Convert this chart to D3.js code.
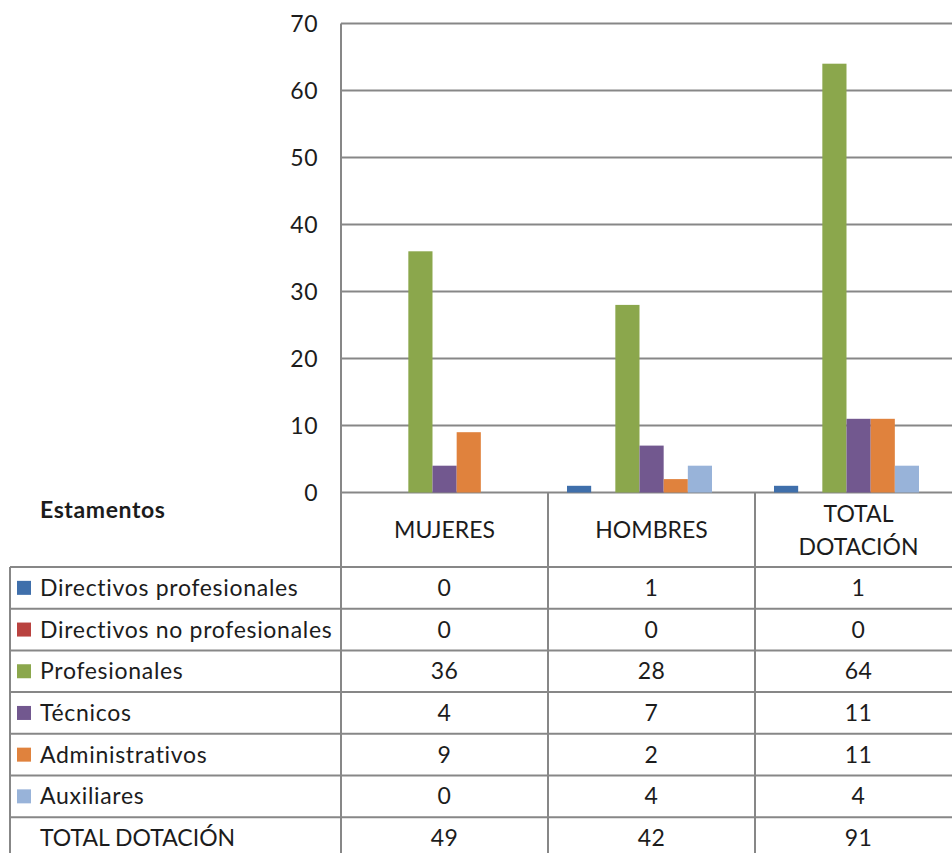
<!DOCTYPE html>
<html>
<head>
<meta charset="utf-8">
<script src="https://cdn.jsdelivr.net/npm/d3@7"></script>
<style>
  body { margin: 0; background: #fff; }
  svg text { font-family: Lato, "Open Sans", sans-serif; fill: #1c1c1c; font-variant-ligatures: none; }
</style>
</head>
<body>
<div id="chart"></div>
<script>
// data
const categories = ["MUJERES", "HOMBRES", "TOTAL DOTACIÓN"];
const headerLines = [["MUJERES"], ["HOMBRES"], ["TOTAL", "DOTACIÓN"]];
const series = ["Directivos profesionales", "Directivos no profesionales", "Profesionales",
                "Técnicos", "Administrativos", "Auxiliares"];
const mujeres = [0, 0, 36, 4, 9, 0];
const hombres = [1, 0, 28, 7, 2, 4];
const totalDotacion = [1, 0, 64, 11, 11, 4];
const totales = [49, 42, 91];
const yTicks = [0, 10, 20, 30, 40, 50, 60, 70];
const colors = ["#3f6fab", "#b9423f", "#8ba74c", "#72588f", "#e0823d", "#98b3d9"];

const W = 952, H = 853;
const plot = {left: 341, top: 23.5, bottom: 492.5, colW: 207};
const rowTop = 567, rowH = 41.7, tableLeft = 10;
const grid = "#878787";
const fs = "23px";

const svg = d3.select("#chart")
    .append("svg")
    .attr("width", W)
    .attr("height", H);

const x0 = d3.scaleBand()
    .domain(categories)
    .range([plot.left, plot.left + plot.colW * 3]);

const x1 = d3.scaleBand()
    .domain(series)
    .range([19, 164]);

const y = d3.scaleLinear()
    .domain([0, 70])
    .range([plot.bottom, plot.top]);

// gridlines
svg.append("g")
    .selectAll("line")
    .data(yTicks)
    .enter()
    .append("line")
    .attr("x1", plot.left)
    .attr("x2", W)
    .attr("y1", d => y(d))
    .attr("y2", d => y(d))
    .style("stroke", grid)
    .style("stroke-width", 2);

// y axis labels
const yAxis = svg.append("g")
    .attr("transform", `translate(${plot.left}, 0)`)
    .call(d3.axisLeft(y).tickValues(yTicks).tickSize(0).tickPadding(23));
yAxis.select(".domain").remove();
yAxis.selectAll("text")
    .style("font-size", fs)
    .style("font-family", "Lato, sans-serif")
    .style("letter-spacing", "0.5px")
    .attr("dy", "0.36em")
    .attr("fill", "#1c1c1c");

// bars
const values = [mujeres, hombres, totalDotacion];
const barData = [];
categories.forEach((c, i) => {
    series.forEach((s, j) => {
        barData.push({cat: c, ser: s, value: values[i][j], color: colors[j]});
    });
});

svg.append("g")
    .selectAll("rect")
    .data(barData.filter(d => d.value > 0))
    .enter()
    .append("rect")
    .attr("x", d => x0(d.cat) + x1(d.ser))
    .attr("y", d => y(d.value))
    .attr("width", x1.bandwidth())
    .attr("height", d => y(0) - y(d.value))
    .style("fill", d => d.color);

// table lines
const tbl = svg.append("g");
const nRows = series.length + 1;
for (let r = 0; r <= nRows; r++) {
    tbl.append("line")
        .attr("x1", tableLeft)
        .attr("x2", W)
        .attr("y1", rowTop + r * rowH)
        .attr("y2", rowTop + r * rowH)
        .style("stroke", grid)
        .style("stroke-width", 2);
}
tbl.append("line")
    .attr("x1", tableLeft).attr("x2", tableLeft)
    .attr("y1", rowTop).attr("y2", H)
    .style("stroke", grid).style("stroke-width", 2);
tbl.append("line")
    .attr("x1", plot.left).attr("x2", plot.left)
    .attr("y1", plot.top).attr("y2", H)
    .style("stroke", grid).style("stroke-width", 2);
categories.slice(1).forEach(c => {
    tbl.append("line")
        .attr("x1", x0(c)).attr("x2", x0(c))
        .attr("y1", plot.bottom).attr("y2", H)
        .style("stroke", grid).style("stroke-width", 2);
});

// header
svg.append("text")
    .attr("x", 40)
    .attr("y", 518)
    .style("font-size", "23px")
    .style("font-weight", "bold")
    .style("letter-spacing", "0.6px")
    .text("Estamentos");

categories.forEach((c, i) => {
    const lines = headerLines[i];
    const cx = x0(c) + x0.bandwidth() / 2;
    const mid = 538;
    lines.forEach((t, k) => {
        svg.append("text")
            .attr("x", cx)
            .attr("y", mid + (k - (lines.length - 1) / 2) * 33)
            .attr("text-anchor", "middle")
            .style("font-size", fs)
            .text(t);
    });
});

// rows
series.forEach((s, j) => {
    const yc = rowTop + j * rowH + rowH / 2;
    svg.append("rect")
        .attr("x", 17)
        .attr("y", yc - 7)
        .attr("width", 14)
        .attr("height", 14)
        .style("fill", colors[j]);
    svg.append("text")
        .attr("x", 40)
        .attr("y", yc + 8)
        .style("font-size", fs)
        .style("letter-spacing", "0.7px")
        .text(s);
    categories.forEach((c, i) => {
        svg.append("text")
            .attr("x", x0(c) + x0.bandwidth() / 2)
            .attr("y", yc + 8)
            .attr("text-anchor", "middle")
            .style("font-size", fs)
            .style("letter-spacing", "0.5px")
            .text(values[i][j]);
    });
});

const yTot = rowTop + series.length * rowH + rowH / 2;
svg.append("text")
    .attr("x", 40)
    .attr("y", yTot + 8)
    .style("font-size", fs)
    .text("TOTAL DOTACIÓN");
categories.forEach((c, i) => {
    svg.append("text")
        .attr("x", x0(c) + x0.bandwidth() / 2)
        .attr("y", yTot + 8)
        .attr("text-anchor", "middle")
        .style("font-size", fs)
        .style("letter-spacing", "0.5px")
        .text(totales[i]);
});
</script>
</body>
</html>
